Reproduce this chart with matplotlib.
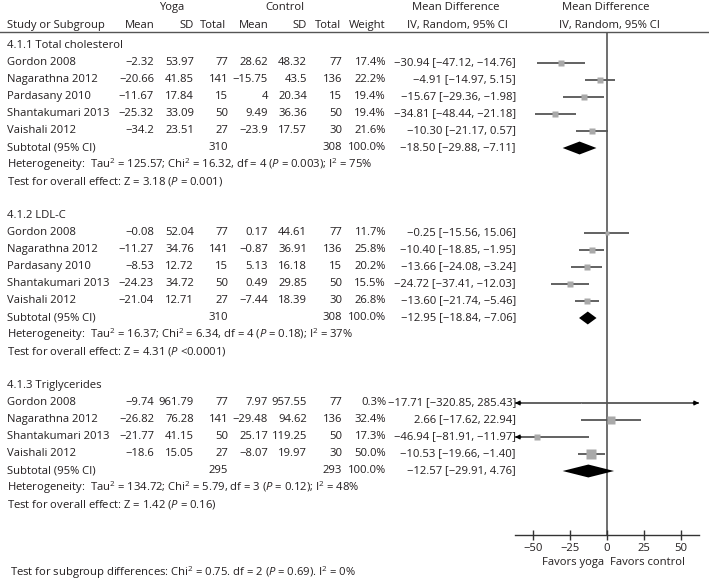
import numpy as np
import matplotlib
matplotlib.use("Agg")
import matplotlib.pyplot as plt
from matplotlib.transforms import blended_transform_factory
from matplotlib.lines import Line2D

# ---- data ----
groups = ["4.1.1 Total cholesterol", "4.1.2 LDL-C", "4.1.3 Triglycerides"]

studies = [
    ["Gordon 2008", "Nagarathna 2012", "Pardasany 2010", "Shantakumari 2013", "Vaishali 2012"],
    ["Gordon 2008", "Nagarathna 2012", "Pardasany 2010", "Shantakumari 2013", "Vaishali 2012"],
    ["Gordon 2008", "Nagarathna 2012", "Shantakumari 2013", "Vaishali 2012"],
]
yoga_mean = [[-2.32, -20.66, -11.67, -25.32, -34.2],
             [-0.08, -11.27, -8.53, -24.23, -21.04],
             [-9.74, -26.82, -21.77, -18.6]]
yoga_sd = [[53.97, 41.85, 17.84, 33.09, 23.51],
           [52.04, 34.76, 12.72, 34.72, 12.71],
           [961.79, 76.28, 41.15, 15.05]]
yoga_n = [[77, 141, 15, 50, 27],
          [77, 141, 15, 50, 27],
          [77, 141, 50, 27]]
ctrl_mean = [[28.62, -15.75, 4, 9.49, -23.9],
             [0.17, -0.87, 5.13, 0.49, -7.44],
             [7.97, -29.48, 25.17, -8.07]]
ctrl_sd = [[48.32, 43.5, 20.34, 36.36, 17.57],
           [44.61, 36.91, 16.18, 29.85, 18.39],
           [957.55, 94.62, 119.25, 19.97]]
ctrl_n = [[77, 136, 15, 50, 30],
          [77, 136, 15, 50, 30],
          [77, 136, 50, 30]]
weight = [[17.4, 22.2, 19.4, 19.4, 21.6],
          [11.7, 25.8, 20.2, 15.5, 26.8],
          [0.3, 32.4, 17.3, 50.0]]
md = [[-30.94, -4.91, -15.67, -34.81, -10.30],
      [-0.25, -10.40, -13.66, -24.72, -13.60],
      [-17.71, 2.66, -46.94, -10.53]]
ci_lo = [[-47.12, -14.97, -29.36, -48.44, -21.17],
         [-15.56, -18.85, -24.08, -37.41, -21.74],
         [-320.85, -17.62, -81.91, -19.66]]
ci_hi = [[-14.76, 5.15, -1.98, -21.18, 0.57],
         [15.06, -1.95, -3.24, -12.03, -5.46],
         [285.43, 22.94, -11.97, -1.40]]

sub_yoga_n = [310, 310, 295]
sub_ctrl_n = [308, 308, 293]
sub_md = [-18.50, -12.95, -12.57]
sub_lo = [-29.88, -18.84, -29.91]
sub_hi = [-7.11, -7.06, 4.76]

het_tau2 = ["125.57", "16.37", "134.72"]
het_chi2 = ["16.32", "6.34", "5.79"]
het_df = ["4", "4", "3"]
het_p = ["= 0.003", "= 0.18", "= 0.12"]
het_i2 = ["75", "37", "48"]
z_val = ["3.18", "4.31", "1.42"]
z_p = ["= 0.001", "<0.0001", "= 0.16"]

xticks = [-50, -25, 0, 25, 50]

# ---- style ----
plt.rcParams["font.family"] = ["Open Sans", "DejaVu Sans"]
plt.rcParams["mathtext.fontset"] = "custom"
plt.rcParams["mathtext.rm"] = "Open Sans"
plt.rcParams["mathtext.it"] = "Open Sans:italic"
plt.rcParams["font.size"] = 8.1
TXT = "#231f20"
LINE = "#555555"
SQ = "#a9a9a9"

W, H = 709, 581
fig = plt.figure(figsize=(W / 100, H / 100), dpi=100)
ax = fig.add_axes([515 / W, 1 - 535 / H, 184 / W, 503 / H])
XMIN, XMAX = -62, 62
ax.set_xlim(XMIN, XMAX)
ax.set_ylim((535 - 46) / 17, (32 - 46) / 17)  # one unit per table row
tr = blended_transform_factory(fig.transFigure, ax.transData)


def fmt(v):
    return f"{v:g}".replace("-", "\u2212")


def put(xpx, row, s, ha="right", **kw):
    ax.text(xpx / W, row, s, transform=tr, ha=ha, va="center", color=TXT, clip_on=False, **kw)


# header
put(172, -2.29, "Yoga", ha="center")
put(284.5, -2.29, "Control", ha="center")
put(456, -2.29, "Mean Difference", ha="center")
put(606, -2.29, "Mean Difference", ha="center")
put(7, -1.235, "Study or Subgroup", ha="left")
for xpx, s in [(155, "Mean"), (194, "SD"), (226, "Total"), (269, "Mean"),
               (307, "SD"), (341, "Total"), (385, "Weight")]:
    put(xpx, -1.235, s)
put(457, -1.235, "IV, Random, 95% CI", ha="center")
put(609, -1.235, "IV, Random, 95% CI", ha="center")
fig.add_artist(Line2D([0, 1], [1 - 32 / H, 1 - 32 / H], color=LINE, lw=1,
                      transform=fig.transFigure))

ax.axvline(0, color=LINE, lw=1.2, zorder=1)

row = 0
for g in range(len(groups)):
    put(7, row, groups[g], ha="left")
    for i, name in enumerate(studies[g]):
        r = row + 1 + i
        put(7, r, name, ha="left")
        put(154, r, fmt(yoga_mean[g][i]))
        put(194, r, fmt(yoga_sd[g][i]))
        put(228, r, str(yoga_n[g][i]))
        put(268, r, fmt(ctrl_mean[g][i]))
        put(307, r, fmt(ctrl_sd[g][i]))
        put(342, r, str(ctrl_n[g][i]))
        put(386, r, f"{weight[g][i]:.1f}%")
        put(516, r, f"{md[g][i]:.2f} [{ci_lo[g][i]:.2f}, {ci_hi[g][i]:.2f}]".replace("-", "\u2212"))

        lo = max(ci_lo[g][i], XMIN)
        hi = min(ci_hi[g][i], XMAX)
        ax.plot([lo, hi], [r, r], color=LINE, lw=1.3, zorder=2, solid_capstyle="butt")
        ax.plot(md[g][i], r, marker="s", ms=6.5 * np.sqrt(weight[g][i] / 50),
                color=SQ, mec="none", zorder=3)
        if ci_lo[g][i] < XMIN:
            ax.annotate("", xy=(XMIN, r), xytext=(XMIN + 4, r), annotation_clip=False,
                        arrowprops=dict(arrowstyle="-|>", color="black", lw=0.8,
                                        mutation_scale=7, shrinkA=0, shrinkB=0))
        if ci_hi[g][i] > XMAX:
            ax.annotate("", xy=(XMAX, r), xytext=(XMAX - 4, r), annotation_clip=False,
                        arrowprops=dict(arrowstyle="-|>", color="black", lw=0.8,
                                        mutation_scale=7, shrinkA=0, shrinkB=0))

    r = row + len(studies[g]) + 1
    put(7, r, "Subtotal (95% CI)", ha="left")
    put(228, r, str(sub_yoga_n[g]))
    put(342, r, str(sub_ctrl_n[g]))
    put(386, r, "100.0%")
    put(516, r, f"{sub_md[g]:.2f} [{sub_lo[g]:.2f}, {sub_hi[g]:.2f}]".replace("-", "\u2212"))
    h = 0.38
    ax.fill([sub_lo[g], sub_md[g], sub_hi[g], sub_md[g]], [r, r - h, r, r + h],
            color="black", lw=0, zorder=4)

    put(7, r + 1, f"Heterogeneity:  Tau$^2$ = {het_tau2[g]}; Chi$^2$ = {het_chi2[g]}, "
                  f"df = {het_df[g]} ($\\mathit{{P}}$ {het_p[g]}); I$^2$ = {het_i2[g]}%", ha="left")
    put(7, r + 2, f"Test for overall effect: Z = {z_val[g]} ($\\mathit{{P}}$ {z_p[g]})", ha="left")
    row = r + 4

put(10, (573 - 46) / 17,
    "Test for subgroup differences: Chi$^2$ = 0.75. df = 2 ($\\mathit{P}$ = 0.69). I$^2$ = 0%",
    ha="left")

# axis
ax.set_xticks(xticks)
ax.set_yticks([])
for s in ["top", "left", "right"]:
    ax.spines[s].set_visible(False)
ax.spines["bottom"].set_color("#333333")
ax.spines["bottom"].set_linewidth(1)
ax.tick_params(axis="x", direction="inout", length=7, width=1, color="#333333",
               labelcolor=TXT, pad=2)
ax.text(-2, (563 - 46) / 17, "Favors yoga", ha="right", va="center", color=TXT, clip_on=False)
ax.text(2, (563 - 46) / 17, "Favors control", ha="left", va="center", color=TXT, clip_on=False)

fig.savefig("out.png", dpi=100)
